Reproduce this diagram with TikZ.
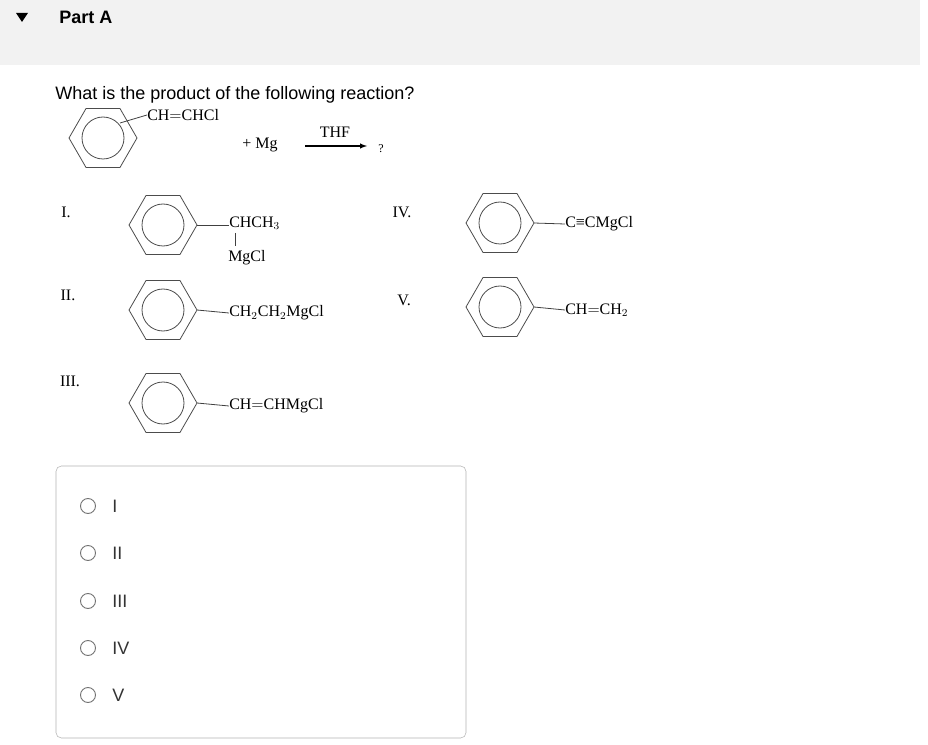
\documentclass[tikz,border=0pt]{standalone}
\usepackage{fontspec}
\setmainfont{Liberation Sans}
\newfontfamily\chem{Liberation Serif}
\usetikzlibrary{calc}
\begin{document}
\begin{tikzpicture}[x=0.75pt,y=-0.75pt,
  ch/.style={font=\chem\fontsize{12}{14}\selectfont,inner sep=0pt,anchor=west},
  lab/.style={font=\chem\fontsize{12}{14}\selectfont,inner sep=0pt},
  ui/.style={font=\fontsize{13.5}{16}\selectfont,inner sep=0pt,anchor=west},
  bond/.style={line width=0.6pt,draw=black!75}]
\useasboundingbox (0,0) rectangle (928,745);
\fill[black!5] (0,0) rectangle (920,65);
\fill (16,13) -- (28,13) -- (22,22) -- cycle;
\node[ui,font=\bfseries\fontsize{13.5}{16}\selectfont] (pa) at (59,17) {Part A};
\node[ui] (q) at (55,95) {What is the product of the following reaction?};
% reactant
\coordinate (c0) at (103,138);
\draw[black!70,line width=0.6pt] (c0)+(0:34) -- +(60:34) -- +(120:34) -- +(180:34) -- +(240:34) -- +(300:34) -- cycle;
\draw[black!70,line width=0.6pt] (c0) circle[radius=21];
\coordinate (c0v) at (120,123);
\node[ch] (r) at (147,115) {CH$=$CHCl};
\draw[bond] (c0v) -- (r.west);
\node[ch] (mg) at (242,145) {+\ Mg};
\coordinate (a1) at (305,146); \coordinate (a2) at (367,146);
\draw[-latex,line width=0.8pt] (a1) -- (a2);
\node[lab] (thf) at (335,132) {THF};
\node[lab,font=\chem\fontsize{9}{10}\selectfont] (qm) at (381,149) {?};
% products
\foreach \n/\x/\y in {c1/163/225,c2/163/310,c3/163/403,c4/500/223,c5/500/307}{
  \coordinate (\n) at (\x,\y);
  \draw[black!70,line width=0.6pt] (\n)+(0:34) -- +(60:34) -- +(120:34) -- +(180:34) -- +(240:34) -- +(300:34) -- cycle;
  \draw[black!70,line width=0.6pt] (\n) circle[radius=21];
  \coordinate (\n r) at (\x+34,\y);}
\node[ch] (p1) at (229,223) {CHCH$_3$};
\node[ch] (p1b) at (228,258) {MgCl};
\draw[bond] (235,233) -- (235,246);
\node[ch] (p2) at (229,313) {CH$_2$CH$_2$MgCl};
\node[ch] (p3) at (229,406) {CH$=$CHMgCl};
\node[ch] (p4) at (565,224) {C≡CMgCl};
\node[ch] (p5) at (565,310) {CH$=$CH$_2$};
\draw[bond] (c1r) -- (p1.west|-c1r);
\draw[bond] (c2r) -- (p2.west);
\draw[bond] (c3r) -- (p3.west);
\draw[bond] (c4r) -- (p4.west);
\draw[bond] (c5r) -- (p5.west);
\node[lab] (l1) at (66,212) {I.};
\node[lab] (l2) at (68,295) {II.};
\node[lab] (l3) at (70,381) {III.};
\node[lab] (l4) at (402,212) {IV.};
\node[lab] (l5) at (404,300) {V.};
% answers
\draw[black!30,rounded corners=4pt] (56,466) rectangle (466,738);
\foreach \t/\y [count=\i] in {I/506,II/553,III/601,IV/648,V/695}{
  \draw[black!55,line width=0.7pt] (88,\y) circle[radius=7.5];
  \node[ui,text=black!80] (o\i) at (112,\y) {\t};}
\end{tikzpicture}
\end{document}
